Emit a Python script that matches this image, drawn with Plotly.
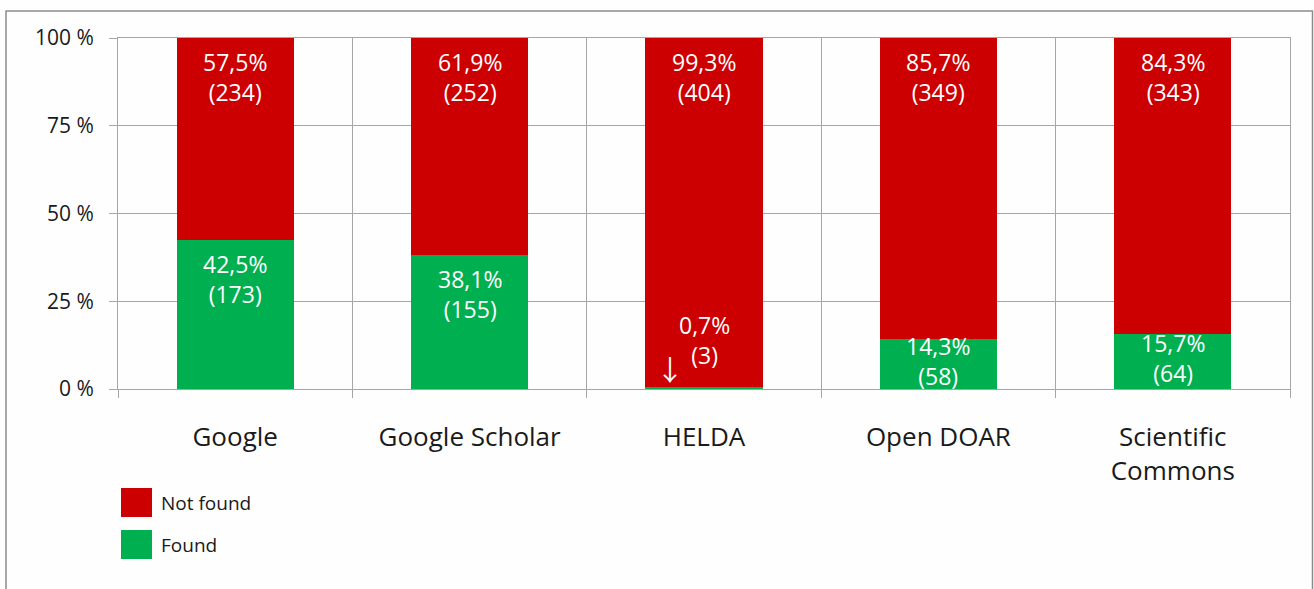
import plotly.graph_objects as go

categories = ["Google", "Google Scholar", "HELDA", "Open DOAR", "Scientific<br>Commons"]
found_pct = [42.5, 38.1, 0.7, 14.3, 15.7]
found_n = [173, 155, 3, 58, 64]
notfound_pct = [57.5, 61.9, 99.3, 85.7, 84.3]
notfound_n = [234, 252, 404, 349, 343]
y_ticks = [0, 25, 50, 75, 100]

series_names = ["Not found", "Found"]
series_colors = ["#CC0000", "#00B050"]

W, H = 1314, 589
L, R, T, B = 118, 24, 38, 200
FONT = "Open Sans"
GRID = "#A6A6A6"
LABEL_FONT = dict(family=FONT, size=23, color="white")


def px_x(p):
    return (p - L) / (W - L - R)


def px_y(p):
    return (H - B - p) / (H - T - B)


def label(p, n):
    return f"{p:.1f}".replace(".", ",") + f"%<br>({n})"


fig = go.Figure()
fig.add_bar(x=categories, y=found_pct, name="Found", marker_color=series_colors[1])
fig.add_bar(x=categories, y=notfound_pct, name="Not found", marker_color=series_colors[0])
fig.update_traces(marker_line_width=0)

# data labels, Excel style: near top of segment, centred if the segment is short,
# above with an arrow if it is tiny
for i, c in enumerate(categories):
    segs = [(0, found_pct[i], found_n[i]), (found_pct[i], notfound_pct[i], notfound_n[i])]
    for base, p, n in segs:
        top = base + p
        if p >= 20:
            fig.add_annotation(x=c, y=top, text=label(p, n), showarrow=False,
                               yanchor="top", yshift=-6, font=LABEL_FONT)
        elif p >= 5:
            fig.add_annotation(x=c, y=base + p / 2, text=label(p, n), showarrow=False,
                               yanchor="middle", yshift=3, font=LABEL_FONT)
        else:
            fig.add_annotation(x=c, y=top, text=label(p, n), showarrow=False,
                               yanchor="bottom", yshift=14, font=LABEL_FONT)
            fig.add_annotation(x=c, y=top, text="↓", showarrow=False, yanchor="middle",
                               xshift=-34, yshift=18,
                               font=dict(family="Noto Sans CJK JP", size=28, color="white"))

fig.update_layout(
    barmode="stack",
    bargap=0.5,
    width=W,
    height=H,
    margin=dict(l=L, r=R, t=T, b=B),
    paper_bgcolor="#FDFEFD",
    plot_bgcolor="#FDFEFD",
    showlegend=False,
    font=dict(family=FONT, color="#1A1A1A"),
)
fig.update_yaxes(
    range=[0, 100], tickvals=y_ticks, ticktext=[f"{v} %" for v in y_ticks],
    tickfont=dict(size=21), showgrid=True, gridcolor=GRID, gridwidth=1,
    showline=True, linecolor=GRID, mirror=True, ticks="outside", ticklen=8,
    tickcolor=GRID, ticklabelstandoff=11, zeroline=False,
)
fig.update_xaxes(
    tickfont=dict(size=26), tickson="boundaries", ticks="outside", ticklen=8,
    tickcolor=GRID, showgrid=True, gridcolor=GRID, showline=True,
    linecolor=GRID, mirror=True, ticklabelstandoff=25,
)

# legend drawn as squares + text, names and colors from series lists
for i, (name, col) in enumerate(zip(series_names, series_colors)):
    top = 488 + 42 * i
    fig.add_shape(
        type="rect", xref="paper", yref="paper",
        x0=px_x(121), x1=px_x(152), y0=px_y(top + 29), y1=px_y(top),
        fillcolor=col, line_width=0,
    )
    fig.add_annotation(
        xref="paper", yref="paper", x=px_x(159), y=px_y(top + 15),
        text=name, showarrow=False, xanchor="left", yanchor="middle",
        font=dict(family=FONT, size=19, color="#1A1A1A"),
    )

# outer chart border
fig.add_shape(
    type="rect", xref="paper", yref="paper", layer="below",
    x0=px_x(6), x1=px_x(1312.5), y0=px_y(620), y1=px_y(11),
    line=dict(color="#8C8C8C", width=1.5), fillcolor="rgba(0,0,0,0)",
)

fig.write_html("out.html", config={"displayModeBar": False},
               post_script="document.body.style.margin='0';")
